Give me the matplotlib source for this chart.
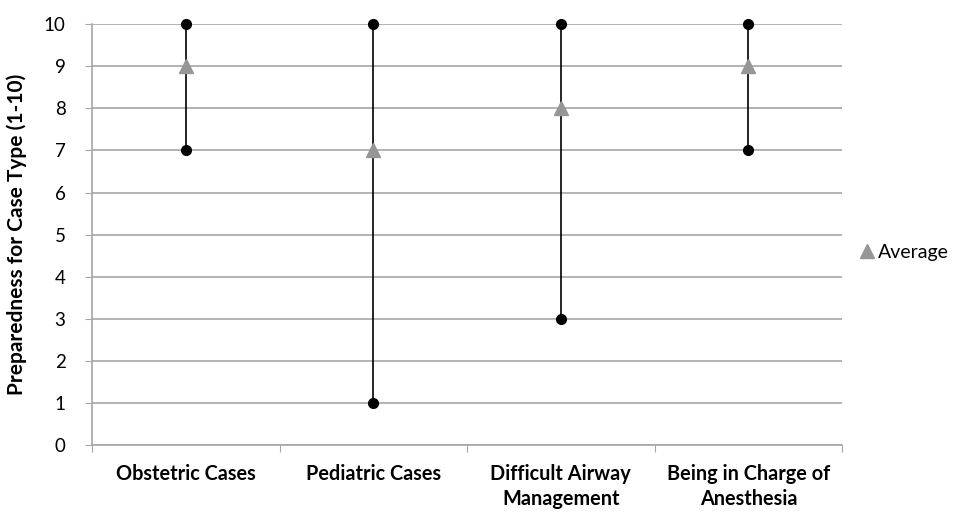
import matplotlib.pyplot as plt
import numpy as np

categories = ['Obstetric Cases', 'Pediatric Cases', 'Difficult Airway\nManagement', 'Being in Charge of\nAnesthesia']
max_vals = [10, 10, 10, 10]
min_vals = [7, 1, 3, 7]
avg_vals = [9, 7, 8, 9]

plt.rcParams['font.family'] = ['Lato', 'DejaVu Sans']

fig = plt.figure(figsize=(9.68, 5.15), dpi=100)
ax = fig.add_axes([0.095, 0.136, 0.775, 0.817])

x = np.arange(len(categories))
ax.vlines(x, min_vals, max_vals, color='black', linewidth=1.2, zorder=3, clip_on=False)
ax.plot(x, max_vals, 'o', color='black', markersize=7, zorder=4, clip_on=False)
ax.plot(x, min_vals, 'o', color='black', markersize=7, zorder=4, clip_on=False)
ax.plot(x, avg_vals, '^', color='#969696', markersize=10, linestyle='none', zorder=5,
        label='Average', clip_on=False)

ax.set_xlim(-0.5, 3.5)
ax.set_ylim(0, 10)
ax.set_yticks(range(0, 11))
ax.yaxis.grid(True, color='#A6A6A6', linewidth=1.2)
ax.set_axisbelow(True)

ax.set_xticks(np.arange(-0.5, 4, 1))
ax.set_xticklabels([])
ax.set_xticks(x, minor=True)
ax.set_xticklabels(categories, minor=True, fontsize=14.3, fontweight='bold', linespacing=1.3)
ax.tick_params(axis='x', which='minor', length=0, pad=14)
ax.tick_params(axis='x', which='major', length=5, color='#A6A6A6')
ax.tick_params(axis='y', length=5, color='#A6A6A6', labelsize=13.5, pad=14)

for s in ['top', 'right']:
    ax.spines[s].set_visible(False)
for s in ['left', 'bottom']:
    ax.spines[s].set_color('#A6A6A6')
    ax.spines[s].set_linewidth(1.2)

ax.set_ylabel('Preparedness for Case Type (1-10)', fontsize=15, fontweight='bold', labelpad=12)

ax.legend(loc='center left', bbox_to_anchor=(1.0, 0.458), frameon=False, fontsize=14,
          handlelength=0.8, handletextpad=0.15)

fig.savefig('out.png', dpi=100)
